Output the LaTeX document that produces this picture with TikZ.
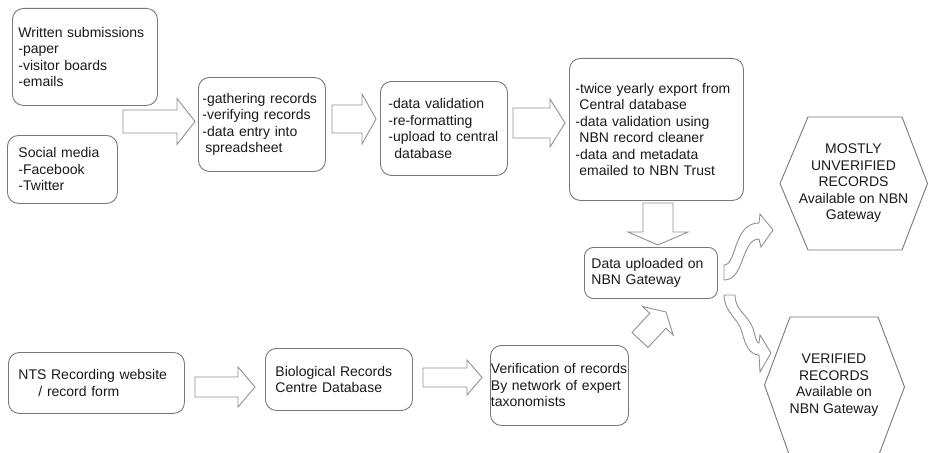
\documentclass[tikz,border=0pt]{standalone}
\usepackage{fontspec}
\setmainfont{Liberation Sans}
\usepackage{tikz}
\usetikzlibrary{calc}
\definecolor{LineGrey}{RGB}{120,120,120}
\definecolor{ArrowGrey}{RGB}{145,145,145}
\definecolor{TextGrey}{RGB}{25,25,25}
% hollow block arrow: start, tip, shaft half width, head half width, head length
\newcommand{\blkarrow}[5]{%
  \coordinate (hb) at ($(#2)!#5!(#1)$);
  \draw[blk] ($(#1)!#3!90:(#2)$) -- ($(hb)!#3!90:(#2)$) -- ($(hb)!#4!90:(#2)$) -- (#2)
    -- ($(hb)!#4!-90:(#2)$) -- ($(hb)!#3!-90:(#2)$) -- ($(#1)!#3!-90:(#2)$) -- cycle;}

\begin{document}
\begin{tikzpicture}[x=1pt,y=-1pt,
  rbox/.style={draw=LineGrey,line width=0.9pt,rounded corners=11pt,anchor=north west,
               align=left,text=TextGrey,font=\fontsize{14pt}{16.5pt}\selectfont},
  hextext/.style={align=center,text=TextGrey,font=\fontsize{14pt}{16.5pt}\selectfont},
  hexline/.style={draw=LineGrey,line width=0.9pt},
  blk/.style={draw=ArrowGrey,line width=0.9pt,fill=white},
]
\useasboundingbox (0,0) rectangle (928,452);
\node[rbox,minimum width=145pt,minimum height=97pt,inner xsep=6pt,text width=133pt] (written) at (12,8)
  {Written submissions\\-paper\\-visitor boards\\-emails};
\node[rbox,minimum width=110pt,minimum height=68pt,inner xsep=11pt,text width=88pt] (social) at (7,135)
  {Social media\\-Facebook\\-Twitter};
\node[rbox,minimum width=127pt,minimum height=94pt,inner xsep=4pt,text width=119pt] (gather) at (198,77)
  {-gathering records\\-verifying records\\-data entry into\\\hspace*{3pt}spreadsheet};
\node[rbox,minimum width=127pt,minimum height=94pt,inner xsep=8pt,text width=111pt] (valid) at (380,81)
  {-data validation\\-re-formatting\\-upload to central\\\hspace*{6pt}database};
\node[rbox,minimum width=174pt,minimum height=142pt,inner xsep=6pt,text width=162pt] (export) at (569,58)
  {-twice yearly export from\\\hspace*{4pt}Central database\\-data validation using\\\hspace*{4pt}NBN record cleaner\\-data and metadata\\\hspace*{4pt}emailed to NBN Trust};
\node[rbox,minimum width=133pt,minimum height=51pt,inner xsep=7pt,text width=119pt,rounded corners=9pt] (upload) at (584,247)
  {Data uploaded on\\NBN Gateway};
\node[rbox,minimum width=176pt,minimum height=61pt,inner xsep=10pt,text width=156pt] (nts) at (8,352)
  {NTS Recording website\\\hspace*{20pt}/ record form};
\node[rbox,minimum width=147pt,minimum height=62pt,inner xsep=10pt,text width=127pt] (bio) at (265,348)
  {Biological Records\\Centre Database};
\node[rbox,minimum width=138pt,minimum height=80pt,inner xsep=0.5pt,text width=137pt] (verif) at (490,345)
  {Verification of records\\By network of expert\\taxonomists};
\node[hextext] (unverified) at (853.5,183.5) {MOSTLY\\UNVERIFIED\\RECORDS\\Available on NBN\\Gateway};
\draw[hexline] ($(unverified)+(-73.5,0)$) -- ++(28,-66.5) -- ++(94,0) -- ++(25.5,66.5) -- ++(-25.5,66.5) -- ++(-94,0) -- cycle;
\node[hextext] (verified) at (834,385) {VERIFIED\\RECORDS\\Available on\\NBN Gateway};
\draw[hexline] ($(verified)+(-69.5,0)$) -- ++(25.5,-68) -- ++(88,0) -- ++(26.5,70) -- ++(-26.5,70) -- ++(-88,0) -- cycle;
\coordinate (a1s) at (123,121.5); \coordinate (a1e) at (195,121.5);
\coordinate (a2s) at (332,119); \coordinate (a2e) at (376,119);
\coordinate (a3s) at (513,123); \coordinate (a3e) at (565,123);
\coordinate (a4s) at (658,203); \coordinate (a4e) at (658,245);
\coordinate (a5s) at (195,387); \coordinate (a5e) at (255,387);
\coordinate (a6s) at (423,377.5); \coordinate (a6e) at (482,377.5);
\coordinate (a7s) at (640,340); \coordinate (a7e) at (666,312);
\blkarrow{a1s}{a1e}{11.5pt}{23pt}{18pt}
\blkarrow{a2s}{a2e}{14pt}{25pt}{14pt}
\blkarrow{a3s}{a3e}{15pt}{24pt}{15pt}
\blkarrow{a4s}{a4e}{15pt}{30pt}{13pt}
\blkarrow{a5s}{a5e}{10pt}{20pt}{17pt}
\blkarrow{a6s}{a6e}{9.5pt}{17.5pt}{15pt}
\blkarrow{a7s}{a7e}{11pt}{21pt}{12pt}
\draw[blk] (724,265) -- (724,280) .. controls (745,280) and (741,239) .. (759,239) -- (761,247) -- (773,230)
  -- (760,214) -- (759,223) .. controls (733,223) and (737,265) .. (724,265) -- cycle;
\draw[blk] (724,295) .. controls (724,312) and (738,318) .. (742,332) .. controls (745,345) and (750,355) .. (759,355)
  -- (760,372) -- (771,353) -- (760,335) -- (759,343) .. controls (757,343) and (756,340) .. (754,332)
  .. controls (750,315) and (735,312) .. (735,295) -- cycle;
\end{tikzpicture}
\end{document}
